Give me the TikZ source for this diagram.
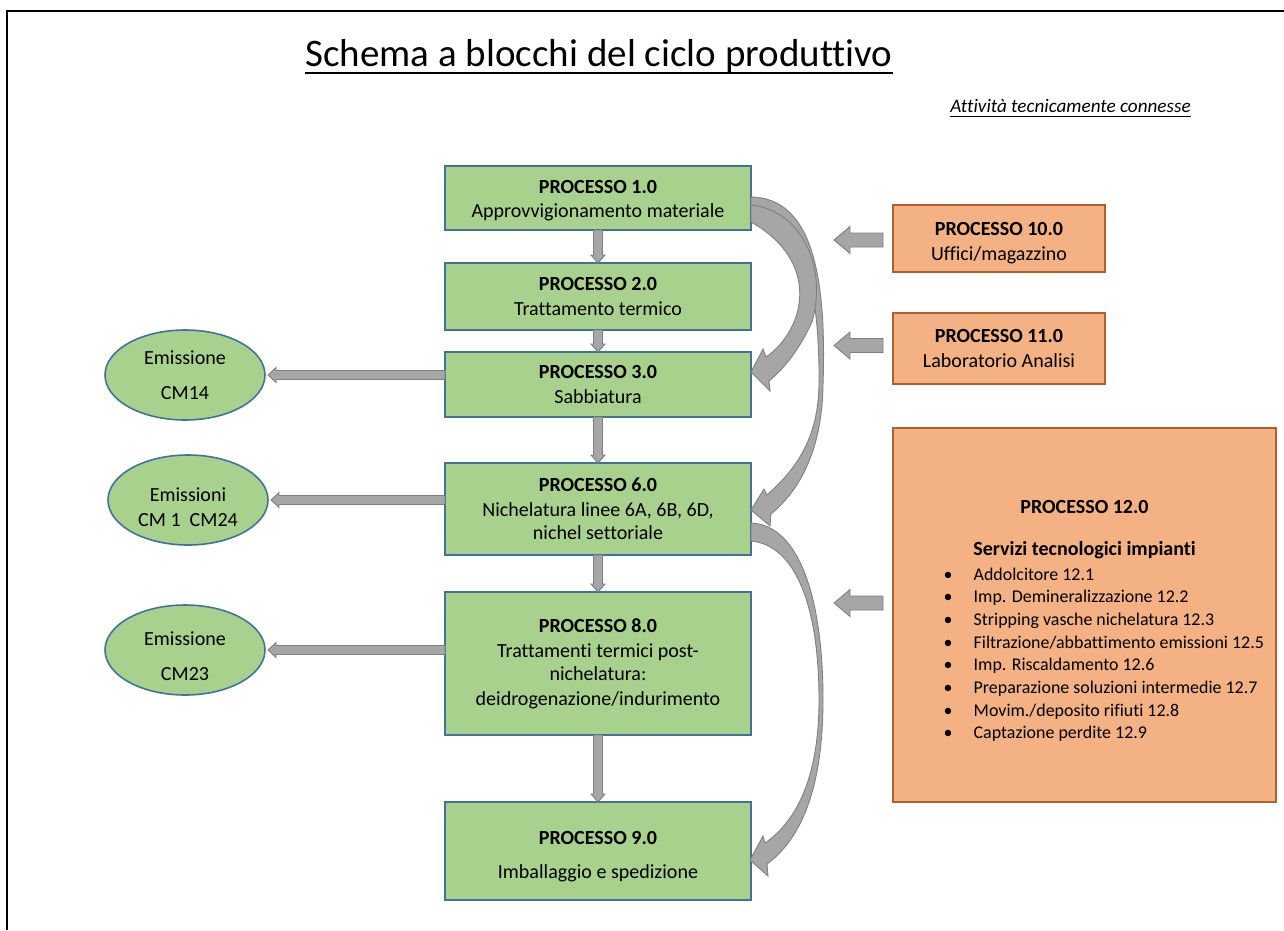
\documentclass[tikz,border=0pt]{standalone}
\usepackage{fontspec}
\setmainfont{Carlito}[Ligatures=NoCommon]
\usetikzlibrary{calc,shapes.geometric}
\definecolor{gfill}{HTML}{A9D18E}
\definecolor{gline}{HTML}{41719C}
\definecolor{ofill}{HTML}{F4B183}
\definecolor{oline}{HTML}{B0602A}
\definecolor{afill}{HTML}{A6A6A6}
\definecolor{aline}{HTML}{7F7F7F}
\tikzset{
  every node/.style={inner sep=0pt, outer sep=0pt},
  boxtext/.style={font=\fontsize{11.4}{14.2}\selectfont, align=center},
  gbox/.style={draw=gline, fill=gfill, line width=0.9pt, rectangle, boxtext},
  obox/.style={draw=oline, fill=ofill, line width=0.9pt, rectangle, boxtext},
  gell/.style={draw=gline, fill=gfill, line width=0.9pt, ellipse, boxtext},
  blockarrow/.style={fill=afill, draw=aline, line width=0.5pt, line join=miter},
}
% box from corners (x1,y1)-(x2,y2) in pixel units
\newcommand\mkbox[7]{\node[#6, minimum width={(#4-#2)*0.02cm}, minimum height={(#5-#3)*0.02cm}] (#1) at ({(#2+#4)/2},{(#3+#5)/2}) {#7};}
% down block arrow between two stacked boxes
\newcommand\darrow[2]{\filldraw[blockarrow] ($(#1.south)+(-4.5,0)$) -- ($(#2.north)+(-4.5,-8)$) -- ($(#2.north)+(-7,-8)$) -- (#2.north) -- ($(#2.north)+(7,-8)$) -- ($(#2.north)+(4.5,-8)$) -- ($(#1.south)+(4.5,0)$) -- cycle;}
% left block arrow from a box to an ellipse
\newcommand\larrow[2]{\filldraw[blockarrow] ($(#1.west |- #2.east)+(0,-4.5)$) -- ($(#2.east)+(11,-4.5)$) -- ($(#2.east)+(11,-7.5)$) -- ($(#2.east)+(3,0)$) -- ($(#2.east)+(11,7.5)$) -- ($(#2.east)+(11,4.5)$) -- ($(#1.west |- #2.east)+(0,4.5)$) -- cycle;}
% short fat left arrow beside an orange box
\newcommand\oarrow[2]{\filldraw[blockarrow] ($(#1.west)+(-10,#2-7)$) -- ($(#1.west)+(-43,#2-7)$) -- ($(#1.west)+(-43,#2-13.5)$) -- ($(#1.west)+(-59,#2)$) -- ($(#1.west)+(-43,#2+13.5)$) -- ($(#1.west)+(-43,#2+7)$) -- ($(#1.west)+(-10,#2+7)$) -- cycle;}
\begin{document}
\begin{tikzpicture}[x=0.02cm, y=-0.02cm]
\useasboundingbox (0,0) rectangle (1284,930);
\fill[white] (0,0) rectangle (1284,930);
\draw[line width=1.1pt] (1284,11) -- (7,11) -- (7,930);

% titles
\node[font=\fontsize{22.2}{26}\selectfont, anchor=base] (title) at (599,66) {Schema a blocchi del ciclo produttivo};
\draw[line width=0.8pt] ($(title.base west)+(0,7)$) -- ($(title.base east)+(0,7)$);
\node[font=\fontsize{10.9}{13}\selectfont\itshape, anchor=base] (sub) at (1070.5,112) {Attività tecnicamente connesse};
\draw[line width=0.5pt] ($(sub.base west)+(0,4)$) -- ($(sub.base east)+(0,4)$);

% main process boxes
\mkbox{b1}{445}{166}{751}{230}{gbox}{\rule{0pt}{10.5pt}\textbf{PROCESSO 1.0}\\Approvvigionamento materiale}
\mkbox{b2}{445}{263}{751}{330}{gbox}{\textbf{PROCESSO 2.0}\\Trattamento termico}
\mkbox{b3}{445}{352}{751}{417}{gbox}{\textbf{PROCESSO 3.0}\\Sabbiatura}
\mkbox{b6}{445}{463}{751}{555}{gbox}{\textbf{PROCESSO 6.0}\\Nichelatura linee 6A, 6B, 6D,\\[-1pt]nichel settoriale}
\mkbox{b8}{445}{592}{751}{735}{gbox}{\textbf{PROCESSO 8.0}\\Trattamenti termici post-\\[-1pt]nichelatura:\\deidrogenazione/indurimento}
\mkbox{b9}{445}{802}{751}{900}{gbox}{\rule{0pt}{14pt}\textbf{PROCESSO 9.0}\\[5pt]Imballaggio e spedizione}

% emissions
\node[gell, minimum width={160*0.02cm}, minimum height={90*0.02cm}] (e1) at (185,375) {Emissione\\[6pt]CM14};
\node[gell, minimum width={160*0.02cm}, minimum height={90*0.02cm}] (e2) at (188,500) {\rule{0pt}{16.5pt}Emissioni\\CM~1 \ CM24};
\node[gell, minimum width={160*0.02cm}, minimum height={90*0.02cm}] (e3) at (185,650) {\rule{0pt}{15pt}Emissione\\[6pt]CM23};

% connected activities
\mkbox{b10}{893}{205}{1105}{272}{obox}{\rule{0pt}{13pt}\textbf{PROCESSO 10.0}\\Uffici/magazzino}
\mkbox{b11}{893}{313}{1105}{384}{obox}{\textbf{PROCESSO 11.0}\\Laboratorio Analisi}
\mkbox{b12}{893}{428}{1276}{802}{obox}{\rule{0pt}{16.5pt}\textbf{PROCESSO 12.0}\\[10pt]\textbf{Servizi tecnologici impianti}\\[2pt]
\hspace*{22pt}{\fontsize{10.2}{12.9}\selectfont\begin{tabular}{@{}l@{\hspace{12pt}}l@{}}
\textbullet & Addolcitore 12.1\\
\textbullet & Imp. Demineralizzazione 12.2\\
\textbullet & Stripping vasche nichelatura 12.3\\
\textbullet & Filtrazione/abbattimento emissioni 12.5\\
\textbullet & Imp. Riscaldamento 12.6\\
\textbullet & Preparazione soluzioni intermedie 12.7\\
\textbullet & Movim./deposito rifiuti 12.8\\
\textbullet & Captazione perdite 12.9
\end{tabular}}}

% vertical flow arrows
\darrow{b1}{b2}
\darrow{b2}{b3}
\darrow{b3}{b6}
\darrow{b6}{b8}
\darrow{b8}{b9}

% arrows to emissions
\larrow{b3}{e1}
\larrow{b6}{e2}
\larrow{b8}{e3}

% arrows from connected activities
\oarrow{b10}{1.5}
\oarrow{b11}{-3}
\oarrow{b12}{-12}

% curved arrows
\filldraw[blockarrow] ($(b1.east)+(0,-1)$) .. controls (810,198) and (827,270) .. (823,385)
  .. controls (822,450) and (800,490) .. ($(b6.east)+(20,5)$) -- ($(b6.east)+(19,17)$)
  -- ($(b6.east)+(0,1)$) -- ($(b6.east)+(13,-20)$) -- ($(b6.east)+(16,-14)$)
  .. controls (795,470) and (818,440) .. (819,385) .. controls (820,280) and (800,215) .. ($(b1.east)+(0,12)$) -- cycle;
\filldraw[blockarrow] ($(b1.east)+(0,7)$) .. controls (800,210) and (828,265) .. (812,322)
  .. controls (800,348) and (785,368) .. ($(b3.east)+(18,-3.5)$) -- ($(b3.east)+(19,6.5)$)
  -- ($(b3.east)+(0,-12.5)$) -- ($(b3.east)+(12,-35.5)$) -- ($(b3.east)+(15,-27.5)$)
  .. controls (805,330) and (822,262) .. ($(b1.east)+(0,24)$) -- cycle;
\filldraw[blockarrow] ($(b6.east)+(0,14)$) .. controls (800,525) and (823,600) .. (823,700)
  .. controls (823,790) and (800,840) .. ($(b9.east)+(16,13)$) -- ($(b9.east)+(17,25)$)
  -- ($(b9.east)+(-1,9)$) -- ($(b9.east)+(12,-15)$) -- ($(b9.east)+(14,-8)$)
  .. controls (798,820) and (819,775) .. (819,700) .. controls (819,605) and (795,545) .. ($(b6.east)+(0,32)$) -- cycle;
\end{tikzpicture}
\end{document}
